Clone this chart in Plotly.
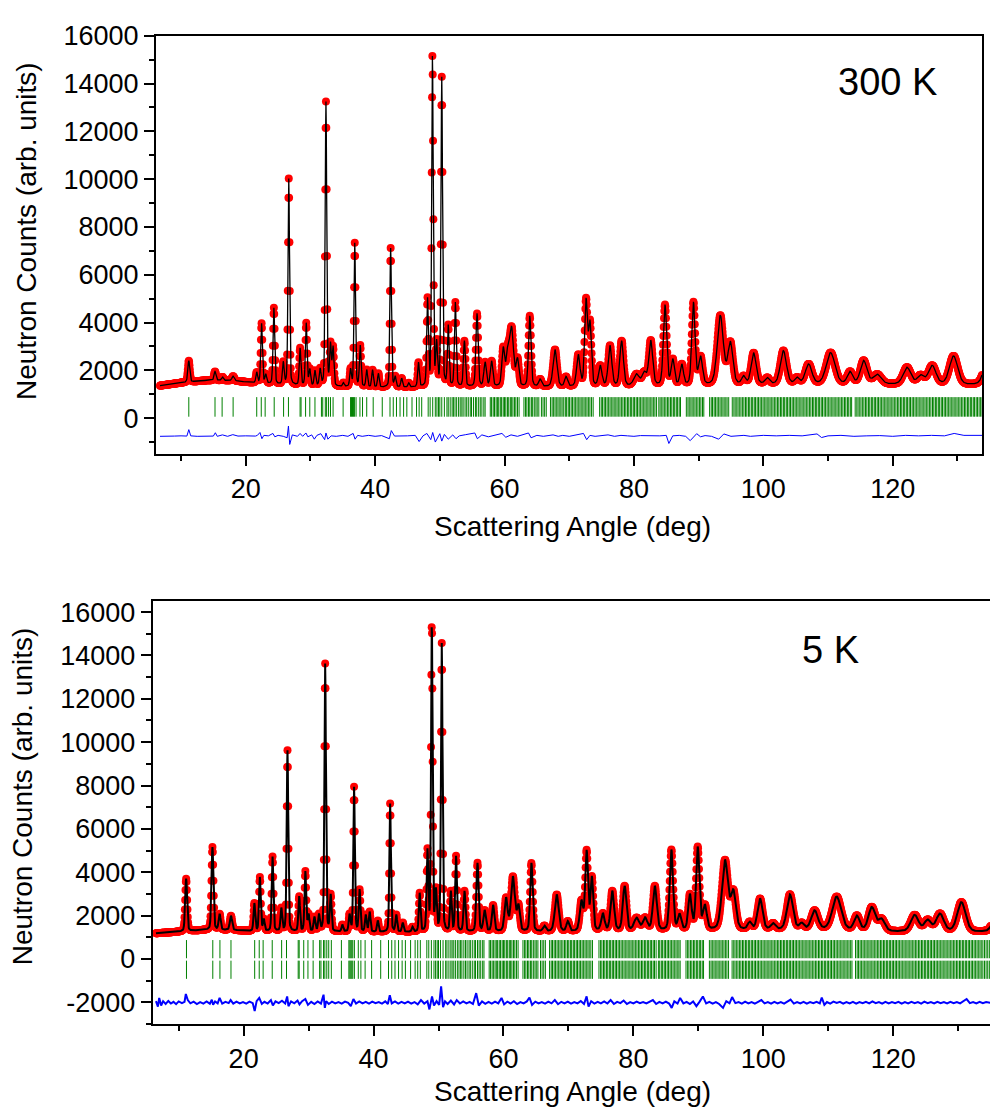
import numpy as np
import plotly.graph_objects as go

W, H = 990, 1114

# ---------------- 300 K panel ----------------
bg300_x = [6.5, 10, 14, 18, 21, 25, 30, 35, 40, 45, 50, 55, 60, 70, 80, 90, 100, 110, 120, 130, 134]
bg300_y = [1350, 1480, 1580, 1570, 1480, 1400, 1330, 1300, 1280, 1280, 1300, 1300, 1300, 1300, 1320, 1350, 1400, 1400, 1400, 1380, 1380]

# (position deg, observed top counts, fwhm deg)
peaks_300K = [
    (11.2, 2400, 0.35), (15.25, 1950, 0.35), (16.4, 1720, 0.35), (18.05, 1750, 0.4),
    (21.7, 1900, 0.3), (22.45, 3950, 0.3), (23.1, 1800, 0.3), (24.35, 4600, 0.3),
    (25.8, 2300, 0.3), (26.65, 10000, 0.28), (28.4, 2900, 0.3), (29.35, 3950, 0.3),
    (29.9, 2000, 0.3), (30.7, 1950, 0.3), (31.5, 2000, 0.3), (32.4, 13200, 0.28),
    (33.1, 3000, 0.3), (33.5, 2900, 0.3), (35.1, 1450, 0.3), (36.2, 2000, 0.3),
    (36.85, 7300, 0.28), (37.7, 3000, 0.3), (38.7, 2000, 0.3), (39.6, 2000, 0.3),
    (40.5, 1850, 0.3), (42.4, 7100, 0.28), (43.1, 1700, 0.3), (44.1, 1650, 0.3),
    (45.2, 1450, 0.3), (46.7, 2300, 0.3), (48.1, 4900, 0.3), (48.86, 15100, 0.28),
    (49.5, 3000, 0.3), (50.3, 14200, 0.28), (51.3, 3800, 0.3), (52.4, 4800, 0.32),
    (53.8, 3200, 0.35), (55.75, 4350, 0.4), (57.0, 2300, 0.45), (58.0, 2350, 0.45),
    (59.8, 2850, 0.5), (60.5, 2600, 0.6), (61.1, 3650, 0.7), (62.0, 2400, 0.5),
    (63.9, 4250, 0.45), (65.5, 1600, 0.5), (67.8, 2850, 0.7), (69.5, 1700, 0.5),
    (71.4, 2600, 0.6), (72.6, 4850, 0.5), (73.2, 3900, 0.5), (74.8, 2150, 0.6),
    (76.3, 3000, 0.65), (78.1, 3200, 0.65), (80.4, 1800, 1.0), (81.6, 1850, 0.8),
    (82.6, 3200, 0.7), (84.8, 4700, 0.6), (86.0, 2400, 0.6), (87.4, 2200, 0.6),
    (89.2, 4800, 0.6), (90.3, 2500, 0.7), (93.35, 4250, 1.1), (94.9, 3100, 0.9),
    (96.96, 1700, 0.7), (98.5, 2700, 0.9), (100.6, 1650, 0.8), (103.1, 2800, 1.1),
    (105.2, 1650, 0.8), (107.0, 2230, 1.2), (110.4, 2720, 1.6), (113.4, 1900, 1.0),
    (115.5, 2380, 1.2), (117.6, 1800, 1.5), (122.2, 2100, 1.4), (124.3, 1750, 1.2),
    (126.1, 2170, 1.4), (129.4, 2580, 1.5), (134.8, 2700, 1.5),
]

diff_300K = [
    (6.75, -760), (8, -740), (9, -750), (10, -740), (10.9, -750), (11.2, -480), (11.5, -740),
    (12.5, -760), (14, -740), (15.0, -750), (15.3, -610), (15.6, -760), (16.4, -700),
    (17.2, -760), (18.0, -690), (18.8, -750), (20, -740), (21.5, -750), (21.8, -720),
    (22.2, -600), (22.5, -860), (22.8, -720), (23.5, -740), (24.2, -640), (24.5, -780),
    (25.0, -720), (25.8, -760), (26.4, -820), (26.6, -330), (26.8, -1100), (27.2, -700),
    (28.0, -760), (28.4, -640), (28.8, -760), (29.3, -620), (29.6, -780), (30.2, -700),
    (30.6, -880), (31.0, -720), (31.6, -650), (32.2, -900), (32.4, -620), (32.7, -880),
    (33.2, -740), (34, -760), (35, -720), (35.8, -760), (36.6, -640), (36.9, -880),
    (37.3, -720), (38, -760), (39, -720), (40, -760), (41, -730), (42.2, -860), (42.5, -520),
    (43, -750), (44, -760), (45, -740), (46.2, -720), (46.8, -980), (47.4, -740),
    (48.0, -640), (48.6, -900), (48.9, -600), (49.3, -1000), (50.0, -650), (50.3, -960),
    (50.7, -680), (51.3, -880), (52.0, -700), (52.5, -860), (53, -740), (54, -690),
    (55.4, -620), (55.8, -860), (56.5, -700), (57.5, -780), (58.5, -720), (59.6, -640),
    (60.2, -800), (61.0, -700), (62, -760), (63.7, -620), (64.1, -820), (65, -720),
    (66, -760), (67.5, -700), (68.3, -760), (69, -720), (70, -760), (71, -700), (72.2, -640),
    (72.7, -900), (73.2, -720), (74, -760), (75, -720), (76, -700), (77, -760), (78, -720),
    (79, -740), (80, -760), (81, -730), (82, -740), (83, -760), (84, -740), (85.0, -720),
    (85.4, -1060), (86, -740), (87, -720), (88.0, -760), (88.7, -940), (89.7, -650),
    (90.3, -780), (91, -730), (92, -760), (93.1, -880), (93.9, -660), (95, -760),
    (96, -740), (97, -720), (98, -760), (99, -740), (100, -720), (102, -740), (104, -720),
    (106, -740), (108.3, -660), (109, -810), (110, -740), (112, -720), (114, -760),
    (116, -740), (118, -730), (120, -760), (122, -720), (124, -740), (126, -720),
    (128, -740), (129.5, -640), (131, -720), (133.8, -720),
]

# ---------------- 5 K panel ----------------
bg5_x = [6.5, 10, 14, 18, 21, 30, 40, 50, 60, 70, 80, 90, 100, 110, 120, 130, 136]
bg5_y = [1180, 1250, 1330, 1330, 1280, 1250, 1230, 1230, 1250, 1250, 1280, 1300, 1330, 1330, 1250, 1230, 1230]

peaks_5K = [
    (11.15, 3700, 0.35), (15.2, 5150, 0.35), (16.3, 2050, 0.35), (18.05, 1980, 0.4),
    (21.65, 2550, 0.3), (22.5, 3750, 0.3), (23.1, 1800, 0.3), (24.45, 4700, 0.3),
    (25.8, 2300, 0.3), (26.75, 9600, 0.28), (28.55, 2850, 0.3), (29.5, 4000, 0.3),
    (30.0, 2000, 0.3), (30.9, 1900, 0.3), (31.6, 2000, 0.3), (32.55, 13600, 0.28),
    (33.4, 2900, 0.3), (35.2, 1550, 0.3), (36.3, 2000, 0.3), (37.0, 7900, 0.28),
    (37.85, 3150, 0.3), (38.8, 2000, 0.3), (39.4, 2150, 0.3), (40.65, 1750, 0.3),
    (42.55, 7150, 0.28), (43.5, 2000, 0.3), (44.5, 1650, 0.3), (46.0, 1450, 0.3),
    (47.1, 3000, 0.3), (48.3, 4900, 0.3), (48.97, 15400, 0.28), (49.6, 3000, 0.3),
    (50.5, 14500, 0.28), (51.9, 3050, 0.3), (52.7, 4700, 0.32), (54.0, 3100, 0.35),
    (56.0, 4400, 0.4), (57.1, 2200, 0.45), (58.4, 2450, 0.45), (60.4, 2750, 0.55),
    (61.45, 3750, 0.7), (62.3, 2400, 0.5), (64.3, 4400, 0.45), (66.3, 1500, 0.5),
    (68.2, 2950, 0.7), (69.9, 1700, 0.5), (72.0, 2600, 0.6), (72.8, 4900, 0.5),
    (73.6, 3700, 0.5), (75.3, 2050, 0.6), (76.75, 3100, 0.65), (78.65, 3330, 0.65),
    (80.5, 1850, 0.9), (81.8, 1850, 0.8), (83.3, 3330, 0.7), (85.85, 5000, 0.6),
    (87.1, 2000, 0.6), (88.7, 2900, 0.6), (89.9, 5100, 0.6), (91.0, 2400, 0.7),
    (94.1, 4500, 1.1), (95.4, 3000, 0.9), (97.9, 1650, 0.7), (99.5, 2750, 0.9),
    (101.5, 1600, 0.8), (104.1, 2950, 1.1), (105.9, 1600, 0.8), (107.9, 2200, 1.2),
    (111.3, 2850, 1.6), (114.4, 1950, 1.0), (116.7, 2350, 1.2), (118.2, 1800, 1.2),
    (123.3, 2000, 1.4), (125.3, 1750, 1.2), (127.2, 2050, 1.4), (130.5, 2600, 1.5),
    (136.2, 2600, 1.5),
]

diff_5K = [
    (6.5, -1950), (6.8, -2200), (7.0, -1800), (7.3, -2150), (7.6, -1950), (8.0, -2080),
    (8.4, -1940), (8.8, -2060), (9.2, -1980), (9.6, -2090), (10.0, -1960), (10.5, -2040),
    (10.9, -1980), (11.1, -1620), (11.4, -1900), (11.8, -2050), (12.3, -1970), (12.8, -2080),
    (13.3, -1990), (13.8, -2060), (14.3, -1960), (14.8, -2070), (15.1, -1880), (15.3, -2120),
    (15.6, -1960), (16.0, -2050), (16.3, -1800), (16.7, -2060), (17.2, -1980), (17.7, -2040),
    (18.0, -1900), (18.4, -2060), (18.9, -1970), (19.4, -2050), (19.9, -1990), (20.4, -2060),
    (20.9, -1970), (21.4, -2040), (21.7, -2410), (22.0, -1950), (22.4, -1800), (22.8, -2080),
    (23.2, -1980), (23.7, -2060), (24.2, -1900), (24.5, -2150), (24.9, -1960), (25.4, -2040),
    (25.9, -1930), (26.4, -2060), (26.7, -1730), (26.9, -2180), (27.3, -1960), (27.8, -2050),
    (28.3, -1920), (28.6, -2100), (29.0, -1950), (29.5, -1850), (29.9, -2120), (30.4, -1980),
    (30.9, -2080), (31.4, -1960), (31.9, -2060), (32.3, -1650), (32.5, -2260), (32.7, -1950),
    (33.1, -2080), (33.6, -1970), (34.1, -2050), (34.6, -1990), (35.1, -2060), (35.6, -1970),
    (36.1, -2030), (36.5, -2180), (36.9, -1850), (37.3, -2060), (37.8, -1960), (38.3, -2050),
    (38.8, -1980), (39.3, -2060), (39.8, -1970), (40.3, -2040), (40.8, -1990), (41.3, -2060),
    (41.8, -1960), (42.2, -2080), (42.5, -1680), (42.8, -2050), (43.3, -1960), (43.8, -2060),
    (44.3, -1980), (44.8, -2050), (45.3, -1970), (45.8, -2060), (46.3, -1990), (46.8, -2100),
    (47.3, -1900), (47.8, -2060), (48.3, -1950), (48.6, -2330), (49.0, -1730), (49.3, -2150),
    (49.7, -1950), (50.1, -2120), (50.4, -1270), (50.7, -2230), (51.0, -1960), (51.4, -2080),
    (51.9, -1920), (52.4, -2100), (52.8, -1900), (53.3, -2060), (53.8, -1960), (54.3, -2050),
    (54.8, -1980), (55.3, -2080), (55.8, -1580), (56.2, -2150), (56.7, -1960), (57.2, -2070),
    (57.7, -1980), (58.2, -2060), (58.7, -1970), (59.2, -2050), (59.7, -1800), (60.1, -2100),
    (60.6, -1970), (61.1, -2060), (61.6, -1950), (62.1, -2080), (62.6, -1990), (63.1, -2050),
    (63.6, -1960), (64.0, -1780), (64.4, -2120), (64.9, -1970), (65.4, -2050), (65.9, -1990),
    (66.4, -2060), (66.9, -1970), (67.4, -2050), (67.9, -1900), (68.4, -2090), (68.9, -1980),
    (69.4, -2050), (69.9, -1970), (70.4, -2060), (70.9, -1990), (71.4, -2050), (71.9, -1940),
    (72.4, -2080), (72.8, -1730), (73.1, -2200), (73.5, -1950), (74.0, -2060), (74.5, -1980),
    (75.0, -2050), (75.5, -1960), (76.0, -2060), (76.5, -1900), (77.0, -2080), (77.5, -1980),
    (78.0, -2040), (78.5, -1920), (79.0, -2080), (79.5, -1990), (80.0, -2050), (80.5, -1970),
    (81.0, -2040), (81.5, -1990), (82.0, -2050), (82.5, -1980), (83.0, -1900), (83.5, -2080),
    (84.0, -1980), (84.5, -2050), (85.0, -1970), (85.5, -2060), (85.9, -2260), (86.3, -1960),
    (86.8, -2060), (87.2, -1800), (87.7, -2050), (88.2, -1980), (88.7, -2080), (89.2, -1960),
    (89.7, -2180), (90.2, -1970), (90.7, -1730), (91.2, -2050), (91.7, -1980), (92.2, -2060),
    (92.7, -1990), (93.2, -2080), (93.8, -2260), (94.3, -1950), (94.8, -2050), (95.2, -1760),
    (95.7, -2040), (96.2, -1990), (96.7, -2060), (97.2, -1970), (97.7, -2050), (98.2, -1990),
    (98.7, -2060), (99.2, -1980), (99.7, -1900), (100.2, -2050), (100.7, -1990), (101.2, -2060),
    (101.7, -1980), (102.2, -2050), (102.7, -1990), (103.2, -2060), (103.7, -1950),
    (104.2, -1880), (104.7, -2060), (105.2, -1990), (105.7, -2050), (106.2, -1980),
    (106.7, -2060), (107.2, -1990), (107.7, -2040), (108.2, -1980), (108.7, -2050),
    (109.0, -1780), (109.4, -2120), (109.8, -1990), (110.3, -2060), (110.8, -1970),
    (111.3, -2030), (111.8, -1980), (112.3, -2060), (112.8, -1990), (113.3, -2050),
    (113.8, -1980), (114.3, -2060), (114.8, -1990), (115.3, -2040), (115.8, -1980),
    (116.3, -2050), (116.8, -1960), (117.3, -2040), (117.8, -1990), (118.3, -2060),
    (118.8, -1980), (119.3, -2050), (119.8, -1990), (120.3, -2040), (120.8, -1980),
    (121.3, -2060), (121.8, -1990), (122.3, -2050), (122.8, -1980), (123.3, -2040),
    (123.8, -1990), (124.3, -2060), (124.8, -1970), (125.3, -2040), (125.8, -1990),
    (126.3, -2050), (126.8, -1980), (127.3, -2040), (127.8, -1990), (128.3, -2050),
    (128.8, -1980), (129.3, -2040), (129.8, -1990), (130.3, -2050), (130.8, -1960),
    (131.3, -1850), (131.8, -2040), (132.3, -1990), (132.8, -2050), (133.3, -1980),
    (133.8, -2040), (134.3, -1990), (135.0, -2030),
]

# Bragg reflection markers (deg)
bragg_ticks = [
    11.2, 15.25, 16.35, 18.05, 21.7, 22.4, 23.0, 24.4, 25.85, 26.6, 28.4, 28.55, 29.25,
    29.9, 30.7, 31.7, 31.9, 32.3, 32.5, 32.8, 33.1, 33.5, 35.05, 36.2, 36.35, 36.5, 36.65,
    36.8, 37.05, 37.65, 38.05, 38.7, 39.7, 41.1, 42.3, 42.8, 43.3, 43.85, 44.4, 44.9, 45.7,
    46.4, 46.8, 47.2, 48.2, 48.5, 48.9, 49.3, 49.55, 49.8, 50.0, 50.3, 50.7, 51.1, 51.3,
    51.6, 51.9, 52.1, 52.35, 52.6, 52.9,
    53.15, 53.4, 53.6, 53.9, 54.15, 54.4, 54.7, 54.9, 55.2, 55.5, 55.7, 56.0, 56.25, 56.5,
    56.8, 57.0,
    57.8, 58.0, 58.25, 58.45, 58.7, 58.9, 59.1, 59.35, 59.55, 59.8, 60.0, 60.2, 60.45, 60.65,
    60.9, 61.1, 61.3, 61.55, 61.75, 62.0, 62.25,
    63.0, 63.25, 63.45, 63.7, 63.9, 64.15, 64.35, 64.6, 64.85, 65.05, 65.3,
    65.7, 65.95, 66.2, 66.45,
    67.1, 67.35, 67.55, 67.8, 68.0, 68.25, 68.45, 68.7, 68.9, 69.15, 69.4, 69.6, 69.85,
    70.05, 70.3, 70.5, 70.75, 70.95, 71.2, 71.4, 71.65, 71.85, 72.1, 72.3, 72.55, 72.75,
    73.0, 73.2, 73.45, 73.7,
    74.7, 74.95, 75.15, 75.4, 75.6, 75.85, 76.05, 76.3, 76.5, 76.75, 76.95, 77.2, 77.4,
    77.65, 77.85, 78.1, 78.3, 78.55, 78.75, 79.0, 79.2, 79.45, 79.65, 79.9, 80.1, 80.35,
    80.55, 80.8, 81.0, 81.25, 81.45, 81.7, 81.9, 82.15, 82.35, 82.6, 82.8, 83.05, 83.25, 83.5,
    83.85, 84.05, 84.3, 84.5, 84.75, 84.95, 85.2, 85.4, 85.65, 85.85, 86.1, 86.3, 86.55,
    86.75, 87.0, 87.2,
    88.1, 88.35, 88.55, 88.8, 89.0, 89.25, 89.45, 89.7, 89.9, 90.15, 90.35, 90.6, 90.8,
    91.7, 91.95, 92.15, 92.4, 92.6, 92.85, 93.05, 93.3, 93.5, 93.75, 93.95, 94.2, 94.4, 94.65,
    95.2, 95.45, 95.65, 95.9, 96.1, 96.35, 96.55, 96.8, 97.0, 97.25, 97.45, 97.7, 97.9,
    98.15, 98.35, 98.6, 98.8, 99.05, 99.25, 99.5, 99.7, 99.95, 100.15, 100.4, 100.6, 100.85,
    101.05, 101.3, 101.5, 101.75, 101.95, 102.2, 102.4, 102.65, 102.85, 103.1, 103.3,
    103.55, 103.75, 104.0, 104.2, 104.45, 104.65, 104.9, 105.1, 105.35, 105.55, 105.8,
    106.0, 106.25, 106.45, 106.7, 106.9, 107.15, 107.35, 107.6, 107.8, 108.05, 108.25,
    108.5, 108.7, 108.95, 109.15, 109.4, 109.6, 109.85, 110.05, 110.3, 110.5, 110.75,
    110.95, 111.2, 111.4, 111.65, 111.85, 112.1, 112.3, 112.55, 112.75, 113.0, 113.2,
    113.45, 113.65,
    114.2, 114.45, 114.65, 114.9, 115.1, 115.35, 115.55, 115.8, 116.0, 116.25, 116.45,
    116.7, 116.9, 117.15, 117.35, 117.6, 117.8, 118.05, 118.25, 118.5, 118.7, 118.95,
    119.15, 119.4, 119.6, 119.85, 120.05, 120.3, 120.5, 120.75, 120.95, 121.2, 121.4,
    121.65, 121.85, 122.1, 122.3, 122.55, 122.75, 123.0, 123.2, 123.45, 123.65, 123.9,
    124.1, 124.35, 124.55, 124.8, 125.0, 125.25, 125.45, 125.7, 125.9, 126.15, 126.35,
    126.6, 126.8, 127.05, 127.25, 127.5, 127.7, 127.95, 128.15, 128.4, 128.6, 128.85,
    129.05, 129.3, 129.5, 129.75, 129.95, 130.2, 130.4, 130.65, 130.85, 131.1, 131.3,
    131.55, 131.75, 132.0, 132.2, 132.45, 132.65, 132.9, 133.1, 133.35, 133.55, 133.8,
    134.05, 134.3, 134.55, 134.8,
]

tick_row_300K = 470
tick_rows_5K = [450, -500]

y_ticks_300K = [0, 2000, 4000, 6000, 8000, 10000, 12000, 14000, 16000]
y_ticks_5K = [-2000, 0, 2000, 4000, 6000, 8000, 10000, 12000, 14000, 16000]
x_ticks = [20, 40, 60, 80, 100, 120]

step_deg = 0.05
start_300K, end_300K = 6.75, 133.8
start_5K, end_5K = 6.5, 135.0


def pattern(x, bgx, bgy, peaks):
    y = np.interp(x, bgx, bgy)
    for pos, top, w in peaks:
        amp = top - np.interp(pos, bgx, bgy)
        d = (x - pos) / w
        y = y + amp * (0.72 * np.exp(-4 * np.log(2) * d * d) + 0.28 / (1 + 4 * d * d))
    return y


x300 = np.arange(start_300K, end_300K + 1e-9, step_deg)
y300 = pattern(x300, bg300_x, bg300_y, peaks_300K)
x5 = np.arange(start_5K, end_5K + 1e-9, step_deg)
y5 = pattern(x5, bg5_x, bg5_y, peaks_5K)

d300_x, d300_y = zip(*diff_300K)
d5_x, d5_y = zip(*diff_5K)

FONT = "Liberation Sans, Arial, sans-serif"
RED = "#ff0000"
GREEN = "#008000"
BLUE = "#0000ff"

fig = go.Figure()

# top panel
fig.add_trace(go.Scatter(x=x300, y=y300, mode="markers", marker=dict(color=RED, size=8),
                         xaxis="x", yaxis="y", showlegend=False, hoverinfo="skip"))
fig.add_trace(go.Scatter(x=x300, y=y300, mode="lines", line=dict(color="black", width=1.3),
                         xaxis="x", yaxis="y", showlegend=False))
fig.add_trace(go.Scatter(x=bragg_ticks, y=[tick_row_300K] * len(bragg_ticks), mode="markers",
                         marker=dict(symbol="line-ns", size=14, line=dict(width=1, color=GREEN)),
                         xaxis="x", yaxis="y", showlegend=False))
fig.add_trace(go.Scatter(x=d300_x, y=d300_y, mode="lines", line=dict(color=BLUE, width=1),
                         xaxis="x", yaxis="y", showlegend=False))

# bottom panel
fig.add_trace(go.Scatter(x=x5, y=y5, mode="markers", marker=dict(color=RED, size=8),
                         xaxis="x2", yaxis="y2", showlegend=False, hoverinfo="skip"))
fig.add_trace(go.Scatter(x=x5, y=y5, mode="lines", line=dict(color="black", width=2),
                         xaxis="x2", yaxis="y2", showlegend=False))
for row in tick_rows_5K:
    fig.add_trace(go.Scatter(x=bragg_ticks, y=[row] * len(bragg_ticks), mode="markers",
                             marker=dict(symbol="line-ns", size=13, line=dict(width=1, color=GREEN)),
                             xaxis="x2", yaxis="y2", showlegend=False))
fig.add_trace(go.Scatter(x=d5_x, y=d5_y, mode="lines", line=dict(color=BLUE, width=2),
                         xaxis="x2", yaxis="y2", showlegend=False))

axis_common = dict(showline=True, linecolor="black", linewidth=2, ticks="outside",
                   ticklen=10, tickwidth=2, tickcolor="black", showgrid=False, zeroline=False,
                   tickfont=dict(family=FONT, size=27, color="black"))
minor_x = dict(dtick=10, tick0=0, ticklen=5, tickwidth=2, ticks="outside", tickcolor="black")
minor_y = dict(dtick=1000, tick0=0, ticklen=5, tickwidth=2, ticks="outside", tickcolor="black")

fig.update_layout(
    width=W, height=H,
    margin=dict(l=0, r=0, t=0, b=0),
    paper_bgcolor="white", plot_bgcolor="white",
    xaxis=dict(domain=[156 / W, 982 / W], range=[6.13, 133.8], anchor="y", mirror=True,
               tickmode="array", tickvals=x_ticks, ticktext=[str(v) for v in x_ticks],
               minor=minor_x, **axis_common),
    yaxis=dict(domain=[1 - 445 / H, 1 - 21 / H], range=[-1500, 16000], anchor="x", mirror=True,
               tickmode="array", tickvals=y_ticks_300K, ticktext=[str(v) for v in y_ticks_300K],
               minor=minor_y, **axis_common),
    xaxis2=dict(domain=[152.7 / W, 1.0], range=[6.0, 134.9], anchor="y2", mirror=True,
                tickmode="array", tickvals=x_ticks, ticktext=[str(v) for v in x_ticks],
                minor=minor_x, **axis_common),
    yaxis2=dict(domain=[1 - 1022.7 / H, 1 - 594.3 / H], range=[-3000, 16500], anchor="x2",
                tickmode="array", tickvals=y_ticks_5K, ticktext=[str(v) for v in y_ticks_5K],
                minor=minor_y, **axis_common),
)

title_font = dict(family=FONT, size=28, color="black")
annos = [
    dict(text="Scattering Angle (deg)", x=572.5 / W, y=1 - 518 / H, font=title_font),
    dict(text="Scattering Angle (deg)", x=572.5 / W, y=1 - 1091 / H, font=title_font),
    dict(text="Neutron Counts (arb. units)", x=26 / W, y=1 - 219 / H, font=title_font, textangle=-90),
    dict(text="Neutron Counts (arb. units)", x=22 / W, y=1 - 792 / H, font=title_font, textangle=-90),
    dict(text="300 K", x=887 / W, y=1 - 68 / H, font=dict(family=FONT, size=38, color="black")),
    dict(text="5 K", x=830 / W, y=1 - 644 / H, font=dict(family=FONT, size=38, color="black")),
]
for a in annos:
    fig.add_annotation(xref="paper", yref="paper", showarrow=False,
                       xanchor="center", yanchor="middle", **a)

fig.write_html("out.html")
